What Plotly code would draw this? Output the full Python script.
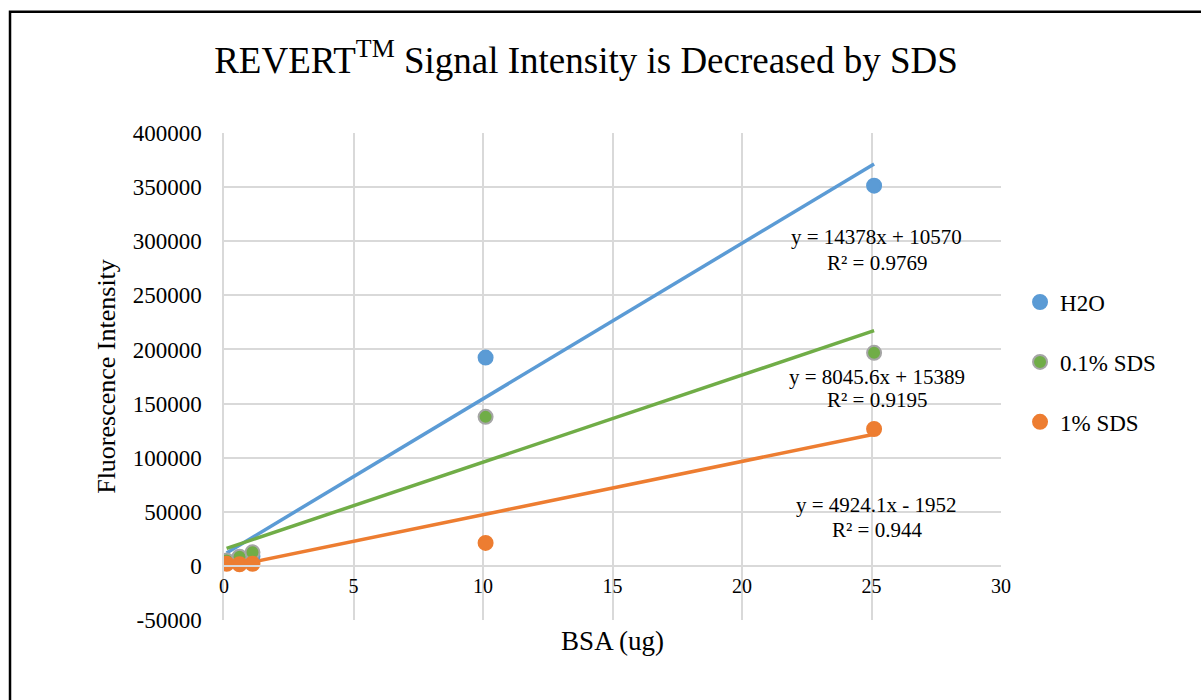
import plotly.graph_objects as go

# ---- data ----
bsa = [0.1, 0.6, 1.1, 10.1, 25.1]
h2o = [4000, 6000, 9000, 192500, 351300]
sds01 = [5000, 8500, 12500, 137700, 196900]
sds1 = [2000, 1500, 2000, 21200, 126500]

series_names = ["H2O", "0.1% SDS", "1% SDS"]
series_vals = [h2o, sds01, sds1]
colors = ["#5B9BD5", "#70AD47", "#ED7D31"]
marker_lines = ["#5B9BD5", "#A5A5A5", "#ED7D31"]

slopes = [14378, 8045.6, 4924.1]
intercepts = [10570, 15389, -1952]
eq_labels = ["y = 14378x + 10570", "y = 8045.6x + 15389", "y = 4924.1x - 1952"]
r2_labels = ["R² = 0.9769", "R² = 0.9195", "R² = 0.944"]
eq_y = [304100, 174800, 56300]
r2_y = [280100, 153500, 33200]

y_ticks = [-50000, 0, 50000, 100000, 150000, 200000, 250000, 300000, 350000, 400000]
x_ticks = [0, 5, 10, 15, 20, 25, 30]

FONT = "Liberation Serif"

fig = go.Figure()

# trendlines
xmin, xmax = min(bsa), max(bsa)
for name, m, b, c in zip(series_names, slopes, intercepts, colors):
    fig.add_trace(go.Scatter(
        x=[xmin, xmax], y=[m * xmin + b, m * xmax + b],
        mode="lines", line=dict(color=c, width=3.5),
        showlegend=False, hoverinfo="skip", legendgroup=name))

# points
for name, vals, c, lc in zip(series_names, series_vals, colors, marker_lines):
    fig.add_trace(go.Scatter(
        x=bsa, y=vals, mode="markers", name=name, legendgroup=name,
        marker=dict(color=c, size=14, line=dict(color=lc, width=2))))

for i in range(3):
    fig.add_annotation(x=25.2, y=eq_y[i], xref="x", yref="y", text=eq_labels[i],
                       showarrow=False, font=dict(family=FONT, size=21, color="#000"),
                       xanchor="center", yanchor="middle")
    fig.add_annotation(x=25.2, y=r2_y[i], xref="x", yref="y", text=r2_labels[i],
                       showarrow=False, font=dict(family=FONT, size=21, color="#000"),
                       xanchor="center", yanchor="middle")

# outer frame
fig.add_shape(type="rect", xref="paper", yref="paper",
              x0=-0.2754, x1=1.4, y0=-0.4, y1=1.2492,
              line=dict(color="#000", width=2.5), fillcolor="rgba(0,0,0,0)", layer="below")

fig.update_layout(
    width=1201, height=700,
    margin=dict(l=224, r=200, t=133, b=80),
    paper_bgcolor="white", plot_bgcolor="white",
    font=dict(family=FONT, color="#000"),
    title=dict(text="REVERT<sup>TM</sup> Signal Intensity is Decreased by SDS",
               x=586 / 1201, xanchor="center", xref="container",
               y=1 - 60 / 700, yanchor="middle", yref="container",
               font=dict(family=FONT, size=37, color="#000")),
    legend=dict(x=1.0245, y=0.697, xanchor="left", yanchor="top",
                font=dict(family=FONT, size=23, color="#000"),
                tracegroupgap=27, traceorder="grouped",
                bgcolor="rgba(0,0,0,0)"),
    showlegend=True,
)

fig.update_xaxes(range=[0, 30], tickvals=x_ticks, ticktext=[str(v) for v in x_ticks],
                 showgrid=True, gridcolor="#D9D9D9", gridwidth=1.5,
                 zeroline=False, showline=True, linecolor="#D9D9D9", linewidth=1.5,
                 anchor="free", position=(0 + 50000) / 450000,
                 tickfont=dict(family=FONT, size=20, color="#000"),
                 ticks="", ticklabelstandoff=2,
                 title=dict(text="BSA (ug)", font=dict(family=FONT, size=27, color="#000"),
                            standoff=34))
fig.update_yaxes(range=[-50000, 400000], tickvals=y_ticks, ticktext=[str(v) for v in y_ticks],
                 showgrid=True, gridcolor="#D9D9D9", gridwidth=1.5,
                 zeroline=False, showline=True, linecolor="#D9D9D9", linewidth=1.5,
                 tickfont=dict(family=FONT, size=23, color="#000"),
                 ticks="", ticklabelstandoff=16,
                 title=dict(text="Fluorescence Intensity",
                            font=dict(family=FONT, size=26, color="#000"), standoff=10))

fig.write_html("out.html")
